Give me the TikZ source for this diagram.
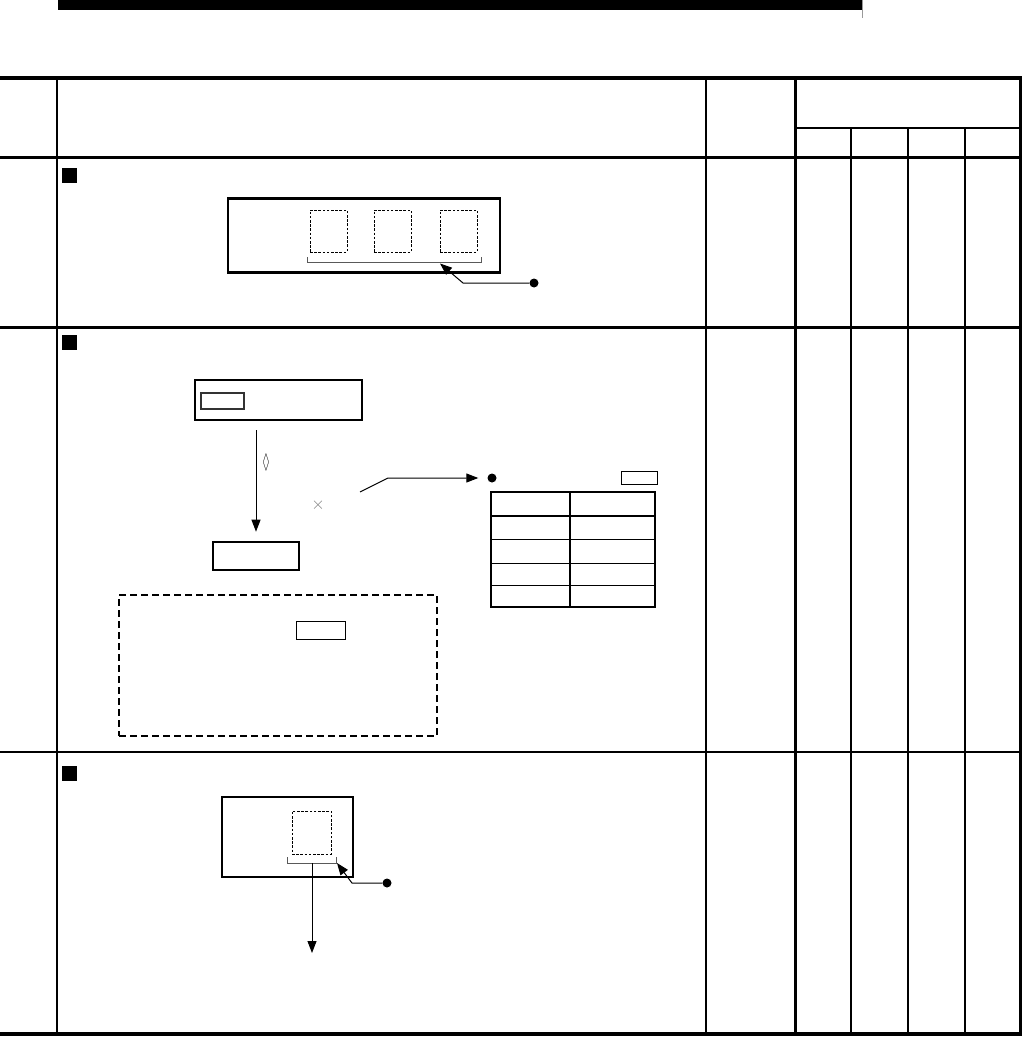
\documentclass[tikz,border=0pt]{standalone}
\usepackage{amssymb}
\usetikzlibrary{arrows.meta,positioning,calc}
\tikzset{
  frame/.style={draw, line width=2.6pt, inner sep=0pt, fill=white},
  slot/.style={draw, line width=0.9pt, dash pattern=on 2.6pt off 1.6pt, inner sep=0pt, minimum width=37pt, minimum height=42pt},
  tag/.style={draw, line width=1pt, inner sep=0pt},
  bullet/.style={circle, fill=black, inner sep=0pt, minimum size=9pt},
  itemsq/.style={fill=black, inner sep=0pt, minimum size=15pt},
  brk/.style={draw=black!65, line width=0.8pt},
  pre/.style={-{Triangle[length=12pt,width=9pt]}, line width=1pt},
  rulethick/.style={line width=3pt},
  rulethin/.style={line width=1.4pt},
  note/.style={inner sep=0pt},
}
\begin{document}
\begin{tikzpicture}[x=1pt,y=-1pt]
\useasboundingbox (0,0) rectangle (1023,1038);
% page header bar
\fill (58,0) rectangle (862,10);
\draw[black!40, line width=0.6pt] (862.5,0) -- (862.5,18);
% table rules
\draw[rulethick, line width=4pt] (0,78) -- (1021.5,78);
\draw[rulethick] (0,157) -- (1021.5,157);
\draw[rulethick] (0,327) -- (1021.5,327);
\draw[rulethin] (0,752) -- (1021.5,752);
\draw[rulethick, line width=3.5pt] (0,1034) -- (1021.5,1034);
\draw[rulethin] (57,78) -- (57,1034);
\draw[rulethin] (706,78) -- (706,1034);
\draw[rulethick] (795,78) -- (795,1034);
\draw[rulethick] (1020,78) -- (1020,1034);
\draw[rulethin] (795,128) -- (1020,128);
\draw[rulethin] (851,128) -- (851,1034);
\draw[rulethin] (908,128) -- (908,1034);
\draw[rulethick, line width=2.4pt] (965,128) -- (965,1034);

% row 1
\node[itemsq] (sqa) at (69.5,175.5) {};
\node[frame, minimum width=272pt, minimum height=74pt] (unit) at (364,235.5) {};
\node[slot] (sa) at (328.5,231) {};
\node[slot] (sb) at (392.5,231) {};
\node[slot] (sc) at (458.5,231) {};
\draw[brk] (307.5,257) |- (481,262) -- (481,257);
\coordinate (brka) at (440,263.5);
\node[bullet] (dota) at (534,283) {};
\draw[pre] (dota.west) -- (463,283) -- (brka);

% row 2
\node[itemsq] (sqb) at (69.5,342.5) {};
\node[frame, minimum width=167pt, minimum height=40pt] (ctrl) at (278.5,400) {};
\node[tag, draw=black!80, line width=1.3pt, minimum width=43pt, minimum height=16pt] (ctag) at (222.5,401) {};
\node[frame, minimum width=86pt, minimum height=28pt] (disp) at (256,556) {};
\draw[pre, shorten <=9pt, shorten >=9pt] (disp.north |- ctrl.south) -- (disp.north);
\node[note, font=\huge, xscale=0.5] at (266,462) {$\lozenge$};
\node[note, font=\LARGE, text=black!50] (mul) at (318,505) {$\times$};
\coordinate (lead) at (360,492);
\node[bullet] (dotb) at (492,478) {};
\draw[pre] (lead) -- (388,478) -- ([xshift=-9pt]dotb.west);
\node[tag, minimum width=36pt, minimum height=13pt] (rtag) at (639,477.5) {};
\node[draw, line width=1.8pt, inner sep=0pt, minimum width=164pt, minimum height=115pt] (chart) at (573,549.5) {};
\draw[line width=2pt] (570,492) -- (570,607);
\draw[line width=1.6pt] (491,516) -- (655,516);
\draw[line width=1pt] (491,539) -- (655,539);
\draw[line width=1pt] (491,563) -- (655,563);
\draw[line width=1pt] (491,585) -- (655,585);
\node[draw, line width=1.8pt, dash pattern=on 7pt off 4pt, inner sep=0pt, minimum width=318pt, minimum height=141pt] (hint) at (278,665.5) {};
\node[tag, minimum width=49pt, minimum height=18pt] (htag) at (320.5,630) {};

% row 3
\node[itemsq] (sqc) at (69.5,773.5) {};
\node[frame, minimum width=131pt, minimum height=80pt] (unitc) at (287.5,837) {};
\node[slot, minimum width=39pt, minimum height=43pt] (sd) at (311.5,832.5) {};
\draw[brk] (287,857) |- (336,863) -- (336,857);
\coordinate (brkc) at (337,863);
\coordinate (outc) at (312,953);
\draw[pre] (312,863) -- (outc);
\node[bullet] (dotc) at (387,883) {};
\draw[pre] (dotc.west) -- (352,883) -- (brkc);
\end{tikzpicture}
\end{document}
